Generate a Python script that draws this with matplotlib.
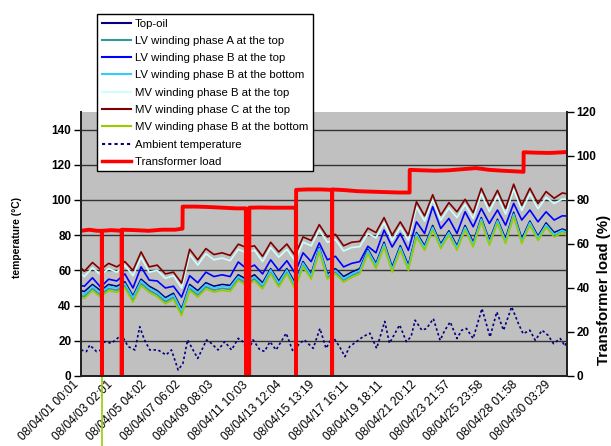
import matplotlib
matplotlib.use("Agg")
import matplotlib.pyplot as plt
import matplotlib.transforms as mtransforms
from matplotlib.lines import Line2D

plt.rcParams['font.family'] = ['Liberation Sans', 'DejaVu Sans']

# hours since 08/04/01 00:01; daily knots at ~05:00 and ~17:00
hours = [0, 5, 17, 29, 41, 53, 65, 77, 89, 101, 113, 125, 137, 149, 161, 173, 185,
         197, 209, 221, 233, 245, 257, 269, 281, 293, 305, 317, 329, 341, 353, 365,
         377, 389, 401, 413, 425, 437, 449, 461, 473, 485, 497, 509, 521, 533, 545,
         557, 569, 581, 593, 605, 617, 629, 641, 653, 665, 677, 689, 701, 713, 720]

top_oil = [48.5, 48, 52, 48.5, 52, 51, 53.5, 45.5, 55, 51, 48.5, 44.5, 47, 38, 52,
           48.5, 53, 51, 52, 51.5, 57.5, 55, 57.5, 53, 61, 54, 61, 53, 65, 58, 73,
           58, 61, 56.5, 59, 61, 72, 64, 76, 62, 74, 63, 81.5, 74, 85.5, 75, 82.5,
           74, 85.5, 76, 90, 77, 89, 78, 93, 78, 88, 79.5, 87, 81.5, 83.5, 82.5]
lv_a_top = [45.6, 45.2, 49.7, 46, 49.7, 48.7, 51.2, 43.2, 52.6, 48.7, 46.2, 42.2, 44.7,
            35.5, 49.8, 46, 50.7, 48.8, 49.8, 49.2, 55.5, 52.6, 55.2, 50.7, 59.2, 51.7,
            59.2, 50.7, 63.2, 56.2, 71.7, 56.2, 59.2, 54.5, 57.2, 59.2, 70.7, 62.2, 74.5,
            60.2, 72.6, 61.2, 80.2, 72.6, 84.1, 73.6, 81.2, 72.6, 84.1, 74.5, 88.8, 75.5,
            87.9, 76.4, 91.7, 76.4, 86.9, 78.2, 85.6, 80.2, 82.5, 81.2]
lv_b_top = [51.4, 51, 55.8, 50.5, 55, 54, 58, 50, 62, 54.5, 54, 50, 51, 44.8, 57, 53,
            59, 56.5, 57.5, 56.5, 64.8, 61, 63, 58, 66, 60, 65.5, 58.5, 70, 65, 75.6,
            66, 68, 62, 64, 65, 73.7, 70, 82.9, 73.3, 81, 71.4, 87.6, 81, 96.2, 83.8,
            89.5, 81, 93.3, 84.8, 95.2, 86.7, 94.3, 85.7, 98.1, 88.6, 94.3, 87.6, 93.3,
            88.6, 91, 90.9]
lv_b_bottom = [47, 46.5, 51, 47.3, 51, 50, 52.5, 44.5, 54, 50, 47.5, 43.5, 46, 37, 51,
               47.3, 52, 50, 51, 50.5, 56.5, 53.8, 56.3, 51.8, 60.3, 52.8, 60.2, 51.7,
               64.2, 57, 72.5, 57, 60, 55.3, 58, 60, 71.2, 63, 75, 60.8, 73, 61.8, 80.7,
               73, 84.5, 74, 81.6, 73, 84.5, 74.9, 89.2, 75.9, 88.2, 76.8, 92, 76.8,
               87.2, 78.5, 86, 80.5, 82.8, 81.5]
mv_b_top = [58, 56.5, 61.5, 57.5, 61, 59, 63, 57, 67.5, 59, 60, 55.5, 57, 50, 69, 63,
            69.5, 66, 67, 65.5, 72, 70, 71.5, 65, 73, 67.5, 72, 65.5, 76, 74, 83, 76,
            77.5, 71, 73, 73.5, 81, 78.5, 87, 77, 84.5, 77, 96, 88, 100, 88.5, 95.5, 90,
            97.5, 89.5, 103.5, 93.5, 102.5, 92, 106, 94, 103.5, 95, 101.5, 98, 100.5,
            100.4]
mv_c_top = [61.5, 59.5, 64.5, 60.5, 64, 62, 65, 60, 70.5, 62, 63, 58, 59, 52.8, 72, 66,
            72.4, 69, 70, 68.5, 74.9, 73, 74, 68, 76, 70.5, 75, 68.5, 79, 77, 86, 79,
            80.5, 74, 76, 76.5, 84, 81.5, 90, 80, 87.6, 80, 99, 91, 103, 91.4, 98.5,
            93.3, 100.4, 92.8, 106.7, 96.6, 105.5, 95.2, 109, 97, 106.7, 98, 104.8, 101,
            104, 103.5]
mv_b_bottom = [44.4, 44, 48.5, 44.8, 48.5, 47.5, 50, 42, 51.4, 47.5, 45, 41, 43.5, 34.3,
               48.6, 44.8, 49.5, 47.6, 48.6, 48, 54.3, 51.4, 54, 49.5, 58, 50.5, 58,
               49.5, 62, 55, 70.5, 55, 58, 53.3, 56, 58, 69.5, 61, 73.3, 59, 71.4, 60,
               79, 71.4, 82.9, 72.4, 80, 71.4, 82.9, 73.3, 87.6, 74.3, 86.7, 75.2, 90.5,
               75.2, 85.7, 77, 84.4, 79, 81.3, 80]

# short sensor drop-outs
dip_hours = [31, 60.4]
dip_top = [45, 50]
dip_green = [-200, 31]
dip_teal = [33, 33]

amb_hours = [0, 8, 13, 23, 30, 35, 45, 60, 70, 80, 87, 94, 102, 114, 126, 134, 144,
             151, 158, 166, 173, 186, 193, 203, 213, 223, 233, 240, 247, 255, 265, 272,
             280, 289, 304, 314, 324, 331, 344, 354, 363, 373, 383, 391, 398, 408, 418,
             428, 438, 450, 457, 472, 482, 489, 495, 505, 512, 522, 532, 539, 547, 557,
             564, 571, 581, 594, 606, 616, 626, 638, 648, 655, 665, 673, 683, 692, 700,
             710, 717, 720]
ambient = [14.8, 13.9, 17.6, 13.9, 14.8, 19.5, 18.6, 23.3, 16.7, 14.8, 28, 20.5, 14.8,
           14.8, 12, 14.8, 3.4, 7.2, 20.5, 14.8, 10, 20.5, 18.6, 14.8, 19.5, 14.8, 21.4,
           19.5, 13.9, 20.5, 14.8, 14, 19.5, 14.8, 24.3, 13.9, 18.6, 20.5, 15.7, 27,
           15.7, 22.4, 16.7, 11, 16.7, 19.5, 22.4, 24.3, 15.7, 31, 18.6, 29, 19.5, 22.4,
           31.7, 26, 27, 32.6, 20.3, 26, 30.7, 21.3, 26, 27, 21.3, 38.3, 22.2, 36.4, 26,
           39.3, 29.8, 24, 26, 20.3, 26, 23.1, 18.4, 21.3, 17, 20]

load_hours = [0, 12, 24, 30.8, 31, 31.2, 45, 60.2, 60.4, 60.6, 80, 100, 120, 140,
              150.4, 150.6, 170, 190, 210, 230, 244.2, 244.4, 249.2, 249.4, 265, 285,
              305, 318.3, 318.5, 318.7, 335, 355, 371.8, 372, 372.2, 390, 410, 430, 450,
              470, 486.8, 487, 505, 525, 545, 565, 585, 605, 625, 645, 655.6, 655.8,
              675, 695, 720]
load = [66, 66.5, 66, 66, 0, 66, 66.3, 66, 0, 66.5, 66.3, 66, 66.5, 66.5, 67, 77, 77,
        76.8, 76.5, 76.2, 76.2, 0, 0, 76.5, 76.6, 76.5, 76.5, 76.5, 0, 84.6, 84.8, 84.8,
        84.6, 0, 84.8, 84.5, 84, 83.8, 83.6, 83.4, 83.4, 93.7, 93.5, 93.3, 93.5, 94,
        94.5, 93.7, 93.3, 93, 92.8, 101.7, 101.5, 101.4, 101.8]

tick_hours = [0, 50, 100, 150, 200, 250, 300, 349.3, 400.2, 450.2, 500.2, 550, 600,
              650, 699.5]
tick_labels = ['08/04/01 00:01', '08/04/03 02:01', '08/04/05 04:02', '08/04/07 06:02',
               '08/04/09 08:03', '08/04/11 10:03', '08/04/13 12:04', '08/04/15 13:19',
               '08/04/17 16:11', '08/04/19 18:11', '08/04/21 20:12', '08/04/23 21:57',
               '08/04/25 23:58', '08/04/28 01:58', '08/04/30 03:29']

fig = plt.figure(figsize=(6.11, 4.46), dpi=100)
ax = fig.add_axes([81 / 611, 70 / 446, 486 / 611, 264 / 446])
ax.set_facecolor('#C0C0C0')
ax.set_xlim(0, 720)
ax.set_ylim(0, 150)
ax.set_yticks(range(0, 141, 20))
ax.yaxis.grid(True, color='#333333', lw=1)
ax.set_axisbelow(True)

series = [
    (top_oil, '#000080', 'Top-oil'),
    (lv_a_top, '#339999', 'LV winding phase A at the top'),
    (lv_b_top, '#0000FF', 'LV winding phase B at the top'),
    (lv_b_bottom, '#33CCFF', 'LV winding phase B at the bottom'),
    (mv_b_top, '#CCFFFF', 'MV winding phase B at the top'),
    (mv_c_top, '#800000', 'MV winding phase C at the top'),
    (mv_b_bottom, '#99CC00', 'MV winding phase B at the bottom'),
]
handles = []
for vals, col, lab in series:
    ax.plot(hours, vals, color=col, lw=1.2)
    handles.append(Line2D([], [], color=col, lw=1.5, label=lab))

ax.vlines(dip_hours, dip_teal, dip_top, color='#339999', lw=1)
ax.vlines(dip_hours, dip_green, dip_top, color='#99CC00', lw=1.2, clip_on=False)

ax.plot(amb_hours, ambient, color='#000080', lw=1.2, ls=(0, (1.5, 1.5)))
handles.append(Line2D([], [], color='#000080', lw=1.5, ls=(0, (1.5, 1.5)),
                      label='Ambient temperature'))

ax2 = ax.twinx()
ax2.set_ylim(0, 120)
ax2.set_yticks(range(0, 121, 20))
ax2.plot(load_hours, load, color='#FF0000', lw=2.8)
handles.append(Line2D([], [], color='#FF0000', lw=2.5, label='Transformer load'))

for a in (ax, ax2):
    a.spines['top'].set_visible(False)
    for s in ('left', 'right', 'bottom'):
        a.spines[s].set_color('#222222')
        a.spines[s].set_linewidth(1.3)
ax.tick_params(axis='y', length=5, width=1, labelsize=8.5, pad=2)
ax2.tick_params(axis='y', length=5, width=1, labelsize=8.5, pad=2)
for lbl in ax.get_yticklabels() + ax2.get_yticklabels():
    lbl.set_fontweight('bold')

ax.set_xticks(tick_hours)
ax.set_xticklabels(tick_labels, rotation=45, ha='right', va='top',
                   rotation_mode='anchor', fontsize=8.6)
ax.tick_params(axis='x', length=0, pad=2)
shift = mtransforms.ScaledTranslation(-8 / 100, 0, fig.dpi_scale_trans)
for lbl in ax.get_xticklabels():
    lbl.set_transform(lbl.get_transform() + shift)

fig.text(17 / 611, 1 - 237 / 446, 'temperature (\u00b0C)', rotation=90,
         ha='center', va='center', fontsize=7.4, fontweight='bold')
fig.text(604 / 611, 1 - 290 / 446, 'Transformer load (%)', rotation=90,
         ha='center', va='center', fontsize=10.8, fontweight='bold')

leg = ax2.legend(handles=handles, loc='upper left',
                 bbox_to_anchor=(97 / 611, 1 - 14 / 446), bbox_transform=fig.transFigure,
                 fontsize=8.2, frameon=True, fancybox=False, borderpad=0.4,
                 labelspacing=0.64, handlelength=2.6, handletextpad=0.3,
                 borderaxespad=0)
leg.get_frame().set_edgecolor('black')
leg.get_frame().set_linewidth(1)
leg.get_frame().set_alpha(1)

fig.savefig('out.png', dpi=100)
